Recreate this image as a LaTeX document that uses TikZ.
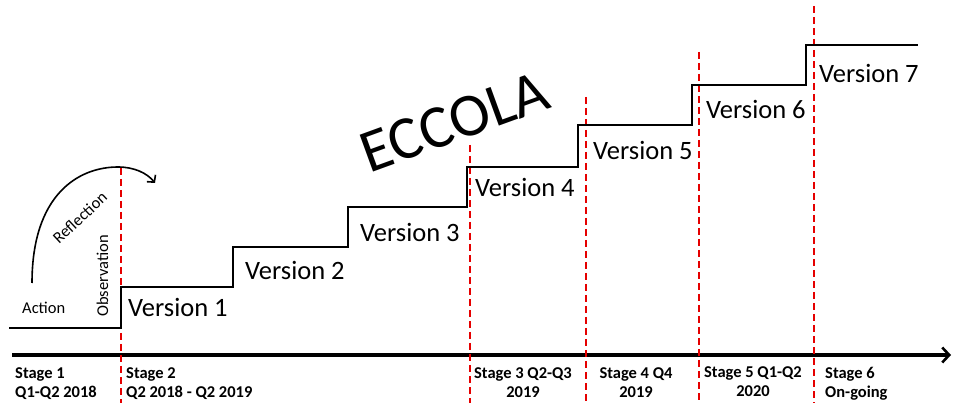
\documentclass[tikz,border=0pt]{standalone}
\usepackage{fontspec}
\setmainfont{Carlito}
\usetikzlibrary{arrows.meta}
\begin{document}
\begin{tikzpicture}[x=1pt,y=-1pt,
  stair/.style={line width=2.8pt,line join=miter},
  axisline/.style={line width=3.4pt,-{Straight Barb[length=7pt,width=15pt,line width=2.6pt]}},
  reddash/.style={red!90!black,line width=1.4pt,dash pattern=on 7pt off 4pt},
  ver/.style={font=\fontsize{26.5}{30}\selectfont,anchor=base west,inner sep=0pt},
  stg/.style={font=\fontsize{16.5}{19.5}\selectfont\bfseries,inner sep=0pt,anchor=north},
  small/.style={font=\fontsize{16.5}{18}\selectfont,inner sep=0pt},
  arc/.style={line width=1.6pt,-{Straight Barb[length=5pt,width=11pt,line width=1.6pt]}}]
\useasboundingbox (0,0) rectangle (956,403);
% axis
\coordinate (ax0) at (12,355);
\coordinate (ax1) at (951,355);
\draw[axisline] (ax0) -- (ax1);
% red dashed stage separators
\coordinate (d1t) at (121,168); \coordinate (d1b) at (121,403);
\coordinate (d2t) at (470,145); \coordinate (d2b) at (470,403);
\coordinate (d3t) at (586,97);  \coordinate (d3b) at (586,403);
\coordinate (d4t) at (699,52);  \coordinate (d4b) at (699,403);
\coordinate (d5t) at (814,6);   \coordinate (d5b) at (814,403);
\foreach \i in {1,...,5} \draw[reddash] (d\i t) -- (d\i b);
% staircase
\coordinate (s0) at (9,328);
\coordinate (s7) at (918,45);
\draw[stair] (s0) -| (121,287) -| (233,247) -| (348,207) -| (467,167)
  -| (578,125) -| (692,85) -| (806,45) -- (s7);
% version labels
\node[ver] (v1) at (128,317) {Version 1};
\node[ver] (v2) at (245,280) {Version 2};
\node[ver] (v3) at (360,242) {Version 3};
\node[ver] (v4) at (475,197) {Version 4};
\node[ver] (v5) at (593,160) {Version 5};
\node[ver] (v6) at (706,119) {Version 6};
\node[ver] (v7) at (819,83) {Version 7};
% ECCOLA
\node[font=\fontsize{61}{61}\selectfont,rotate=20,inner sep=0pt] (eccola) at (454,122) {ECCOLA};
% action / observation / reflection
\node[small,anchor=base west] (action) at (22,314) {Action};
\node[small,anchor=base west,rotate=90] (obs) at (108,317) {Observation};
\node[small,anchor=base west,rotate=43] (refl) at (59,245) {Reflection};
\coordinate (a0) at (32,283);
\coordinate (apk) at (118,167);
\coordinate (a1) at (155,183);
\draw[arc] (a0) .. controls (32,195) and (78,167) .. (apk)
  .. controls (134,167) and (147,173) .. (a1);
% stage labels
\node[stg,anchor=north west,align=left] (st1) at (15,367) {Stage 1\\Q1-Q2 2018};
\node[stg,anchor=north west,align=left] (st2) at (126,367) {Stage 2\\Q2 2018 - Q2 2019};
\node[stg,align=center] (st3) at (523,367) {Stage 3 Q2-Q3\\2019};
\node[stg,align=center] (st4) at (636,367) {Stage 4 Q4\\2019};
\node[stg,align=center] (st5) at (753,366) {Stage 5 Q1-Q2\\2020};
\node[stg,anchor=north west,align=left] (st6) at (825,367) {Stage 6\\On-going};
\end{tikzpicture}
\end{document}
